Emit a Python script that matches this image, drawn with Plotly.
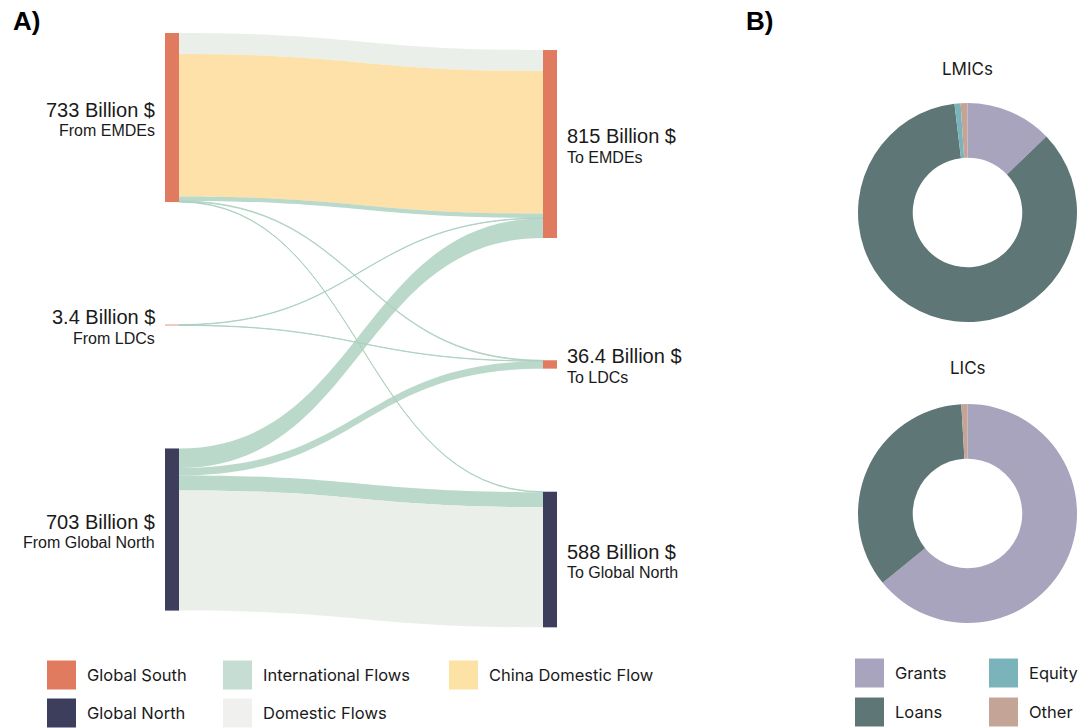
import plotly.graph_objects as go

# ---------------- data ----------------
node_names = ["From EMDEs", "From LDCs", "From Global North",
              "To EMDEs", "To LDCs", "To Global North"]
node_group = ["Global South", "Global South", "Global North",
              "Global South", "Global South", "Global North"]

link_source = [0, 0, 0, 0, 0, 1, 1, 2, 2, 2, 2]
link_target = [3, 3, 3, 4, 5, 3, 4, 3, 4, 5, 5]
link_value = [91, 618, 19, 3, 2, 2.0, 1.4, 85, 32, 65, 521]
link_kind = ["Domestic Flows", "China Domestic Flow", "International Flows",
             "International Flows", "International Flows", "International Flows",
             "International Flows", "International Flows", "International Flows",
             "International Flows", "Domestic Flows"]

pie_labels = ["Grants", "Loans", "Equity", "Other"]
lmic_values = [12.8, 85.3, 0.9, 1.0]
lic_values = [64.1, 35.0, 0.0, 0.9]

# ---------------- styles ----------------
W, H = 1085, 728
node_colors = {"Global South": "rgb(224,123,95)", "Global North": "rgb(60,62,92)"}
link_colors = {"Domestic Flows": "rgba(232,237,231,0.9)",
               "China Domestic Flow": "rgba(253,222,158,0.9)",
               "International Flows": "rgba(170,208,190,0.8)"}
pie_colors = ["rgb(168,164,190)", "rgb(94,119,118)", "rgb(122,180,186)", "rgb(195,164,150)"]

# sankey geometry (pixels)
SX0, SX1, SY0, SY1 = 165, 557, 33, 627
THICK = 14
SW, SH = SX1 - SX0, SY1 - SY0
node_x = [THICK / 2 / SW] * 3 + [1 - THICK / 2 / SW] * 3
node_y = [0.1423, 0.4916, 0.8359, 0.1869, 0.558, 0.8864]

# node totals (for labels)
out_tot = [0.0] * 6
in_tot = [0.0] * 6
for s, t, v in zip(link_source, link_target, link_value):
    out_tot[s] += v
    in_tot[t] += v
node_tot = [max(a, b) for a, b in zip(out_tot, in_tot)]


def fmt(v):
    return "{:g}".format(round(v, 1))


def px(x):
    return x / W


def py(y):
    return 1 - y / H


fig = go.Figure()

fig.add_trace(go.Sankey(
    domain=dict(x=[px(SX0), px(SX1)], y=[py(SY1), py(SY0)]),
    arrangement="fixed",
    node=dict(
        label=[""] * 6,
        x=node_x,
        y=node_y,
        pad=131,
        thickness=THICK,
        color=[node_colors[g] for g in node_group],
        line=dict(width=0),
        hovertemplate="%{customdata}<extra></extra>",
        customdata=node_names,
    ),
    link=dict(
        source=link_source,
        target=link_target,
        value=link_value,
        color=[link_colors[k] for k in link_kind],
        line=dict(width=0),
    ),
))

PIE_X0, PIE_X1 = 858, 1077
fig.add_trace(go.Pie(
    labels=pie_labels, values=lmic_values, hole=0.5, sort=False,
    direction="clockwise", rotation=0,
    marker=dict(colors=pie_colors, line=dict(width=0)),
    textinfo="none", showlegend=False,
    domain=dict(x=[px(PIE_X0), px(PIE_X1)], y=[py(322), py(103)]),
))
fig.add_trace(go.Pie(
    labels=pie_labels, values=lic_values, hole=0.5, sort=False,
    direction="clockwise", rotation=0,
    marker=dict(colors=pie_colors, line=dict(width=0)),
    textinfo="none", showlegend=False,
    domain=dict(x=[px(PIE_X0), px(PIE_X1)], y=[py(623), py(404)]),
))

annotations = []
shapes = []

LABEL_FONT = "Liberation Sans, Arial, sans-serif"
LEG_FONT = "Inter, Open Sans, sans-serif"

# node labels
for i, name in enumerate(node_names):
    cx = SX0 + node_x[i] * SW
    cy = SY0 + node_y[i] * SH
    left = i < 3
    xpos = cx - THICK / 2 - 8 if left else cx + THICK / 2 + 8
    anchor = "right" if left else "left"
    annotations.append(dict(
        x=px(xpos), y=py(cy - 8), xref="paper", yref="paper",
        text=fmt(node_tot[i]) + " Billion $", showarrow=False,
        xanchor=anchor, yanchor="middle", align=anchor,
        font=dict(family=LABEL_FONT, size=20, color="#1a1a1a"),
    ))
    annotations.append(dict(
        x=px(xpos), y=py(cy + 13), xref="paper", yref="paper",
        text=name, showarrow=False,
        xanchor=anchor, yanchor="middle", align=anchor,
        font=dict(family=LABEL_FONT, size=16, color="#1a1a1a"),
    ))

# panel letters
for txt, x in [("A)", 11), ("B)", 744)]:
    annotations.append(dict(
        x=px(x), y=py(21), xref="paper", yref="paper", text="<b>" + txt + "</b>",
        showarrow=False, xanchor="left", yanchor="middle",
        font=dict(family="Liberation Sans, Arial, sans-serif", size=26, color="black"),
    ))

# pie titles
for txt, y in [("LMICs", 69), ("LICs", 368)]:
    annotations.append(dict(
        x=px((PIE_X0 + PIE_X1) / 2), y=py(y), xref="paper", yref="paper", text=txt,
        showarrow=False, xanchor="center", yanchor="middle",
        font=dict(family=LEG_FONT, size=17, color="#1a1a1a"),
    ))

# legends
legend_items = [
    ("Global South", node_colors["Global South"], 47, 675),
    ("Global North", node_colors["Global North"], 47, 713),
    ("International Flows", "rgb(197,221,210)", 223, 675),
    ("Domestic Flows", "rgb(240,240,238)", 223, 713),
    ("China Domestic Flow", "rgb(253,226,165)", 449, 675),
    ("Grants", pie_colors[0], 855, 673),
    ("Loans", pie_colors[1], 855, 712),
    ("Equity", pie_colors[2], 989, 673),
    ("Other", pie_colors[3], 989, 712),
]
SQ = 29
for txt, col, x, y in legend_items:
    shapes.append(dict(
        type="rect", xref="paper", yref="paper",
        x0=px(x), x1=px(x + SQ), y0=py(y + SQ / 2), y1=py(y - SQ / 2),
        fillcolor=col, line=dict(width=0),
    ))
    annotations.append(dict(
        x=px(x + SQ + 9), y=py(y), xref="paper", yref="paper", text=txt,
        showarrow=False, xanchor="left", yanchor="middle",
        font=dict(family=LEG_FONT, size=16.5, color="#1a1a1a"),
    ))

fig.update_layout(
    width=W, height=H, autosize=False,
    margin=dict(l=0, r=0, t=0, b=0),
    paper_bgcolor="white", plot_bgcolor="white",
    showlegend=False,
    annotations=annotations, shapes=shapes,
)

fig.write_html("out.html", config={"displayModeBar": False},
               post_script="document.body.style.margin='0';")
